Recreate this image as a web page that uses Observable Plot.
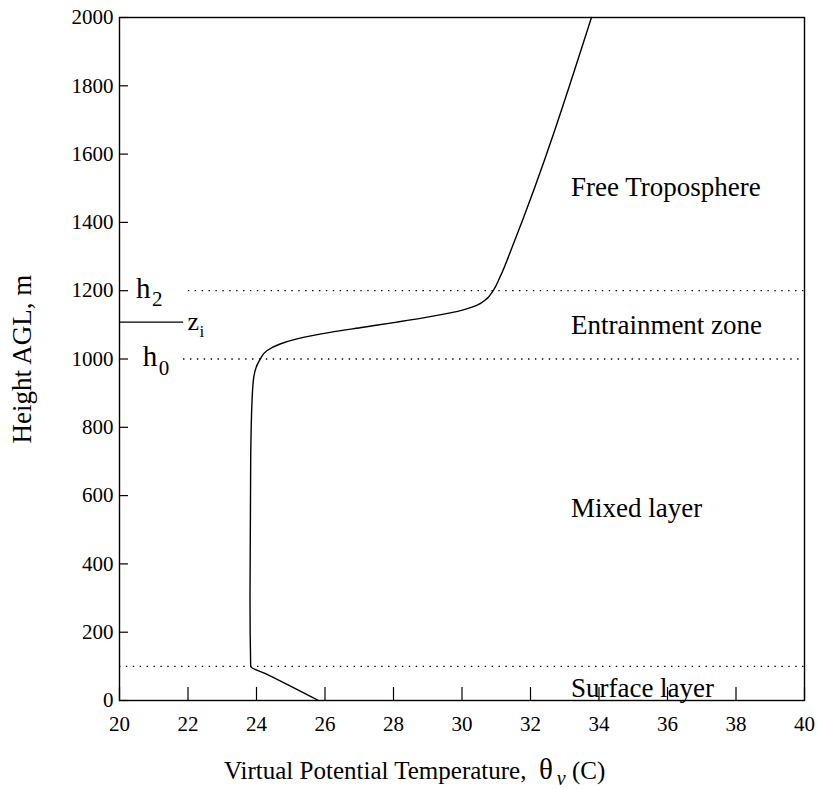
<!DOCTYPE html>
<html>
<head>
<meta charset="utf-8">
<script src="https://cdn.jsdelivr.net/npm/d3@7"></script>
<script src="https://cdn.jsdelivr.net/npm/@observablehq/plot@0.6"></script>
<style>
  html, body { margin: 0; padding: 0; background: #fff; }
  svg text { font-family: 'Liberation Serif', 'Times New Roman', serif; }
</style>
</head>
<body>
<div id="chart"></div>
<script>
// ---- data ----
const heights = [0, 78, 100, 300, 700, 878, 947, 1000, 1025, 1044, 1059, 1078, 1093, 1108, 1124, 1144, 1157, 1176, 1200, 1240, 1337, 2000];
const theta   = [25.81, 24.28, 23.83, 23.81, 23.83, 23.87, 23.92, 24.11, 24.31, 24.69, 25.18, 26.15, 27.12, 28.10, 29.07, 30.04, 30.43, 30.72, 30.91, 31.11, 31.50, 33.78];
const xTicks = [20, 22, 24, 26, 28, 30, 32, 34, 36, 38, 40];
const yTicks = [0, 200, 400, 600, 800, 1000, 1200, 1400, 1600, 1800, 2000];
const layerNames = ["Free Troposphere", "Entrainment zone", "Mixed layer", "Surface layer"];
const layerHeights = [1502, 1098, 562, 35];
const layerX = 33.18;
const boundaryHeights = [100, 1000, 1200];
const boundaryStart = [20, 21.87, 22.01];
const ziHeight = 1108;
const ziEnd = 21.87;

const profile = heights.map((h, i) => ({h, t: theta[i]}));
const layers = layerNames.map((name, i) => ({name, h: layerHeights[i]}));
const bounds = boundaryHeights.map((h, i) => ({h, x1: boundaryStart[i], x2: 40}));

const font = "'Liberation Serif', 'Times New Roman', serif";

const plot = Plot.plot({
  width: 823,
  height: 789,
  marginLeft: 119,
  marginRight: 19,
  marginTop: 17,
  marginBottom: 89,
  style: {fontFamily: font, fontSize: "21px", color: "#000", background: "#fff"},
  x: {domain: [20, 40]},
  y: {domain: [0, 2000]},
  marks: [
    Plot.axisX(xTicks, {tickSize: 0, tickPadding: 16, fontSize: 21, fontFamily: font, fontVariant: "normal", tickFormat: "d", label: null}),
    Plot.axisY(yTicks, {tickSize: 0, tickPadding: 6, fontSize: 21, fontFamily: font, fontVariant: "normal", tickFormat: "d", label: null}),
    Plot.tickX(xTicks, {x: d => d, insetTop: 670, stroke: "#000", strokeWidth: 1.2}),
    Plot.tickY(yTicks, {y: d => d, insetRight: 676, stroke: "#000", strokeWidth: 1.2}),
    Plot.ruleY(bounds, {y: "h", x1: "x1", x2: "x2", stroke: "#000", strokeWidth: 1.3, strokeDasharray: "1.4,5.5"}),
    Plot.ruleY([ziHeight], {x1: 20, x2: ziEnd, stroke: "#000", strokeWidth: 1.2}),
    Plot.line(profile, {x: "t", y: "h", curve: "monotone-y", stroke: "#000", strokeWidth: 1.4}),
    Plot.text(layers, {x: layerX, y: "h", text: "name", textAnchor: "start", fontSize: 27, fill: "#000"}),
    // h2, h0, zi labels
    Plot.text([1200], {x: 20.48, y: d => d, text: ["h"], textAnchor: "start", fontSize: 29, dy: -2}),
    Plot.text([1200], {x: 20.48, y: d => d, text: ["2"], textAnchor: "start", fontSize: 21, dx: 16, dy: 9}),
    Plot.text([1000], {x: 20.68, y: d => d, text: ["h"], textAnchor: "start", fontSize: 29, dy: -2}),
    Plot.text([1000], {x: 20.68, y: d => d, text: ["0"], textAnchor: "start", fontSize: 21, dx: 16, dy: 9}),
    Plot.text([ziHeight], {x: ziEnd, y: d => d, text: ["z"], textAnchor: "start", fontSize: 26, dx: 4, dy: 0}),
    Plot.text([ziHeight], {x: ziEnd, y: d => d, text: ["i"], textAnchor: "start", fontSize: 17, dx: 16, dy: 9}),
    Plot.text(["Height AGL, m"], {frameAnchor: "left", textAnchor: "middle", rotate: -90, dx: -97, fontSize: 27}),
    Plot.frame({stroke: "#000", strokeWidth: 1.4})
  ]
});

// x-axis title with Greek theta and italic subscript
const svg = d3.select(plot);
const title = svg.append("text")
  .attr("x", 224).attr("y", 779)
  .attr("text-anchor", "start")
  .attr("font-family", font).attr("font-size", 25).attr("fill", "#000");
title.append("tspan").text("Virtual Potential Temperature,\u00a0\u00a0");
title.append("tspan").attr("font-size", 29).text("θ");
title.append("tspan").attr("font-size", 20).attr("font-style", "italic").attr("dy", 6).attr("dx", 4).text("v");
title.append("tspan").attr("dy", -6).text("\u00a0(C)");

document.getElementById("chart").appendChild(plot);
</script>
</body>
</html>
